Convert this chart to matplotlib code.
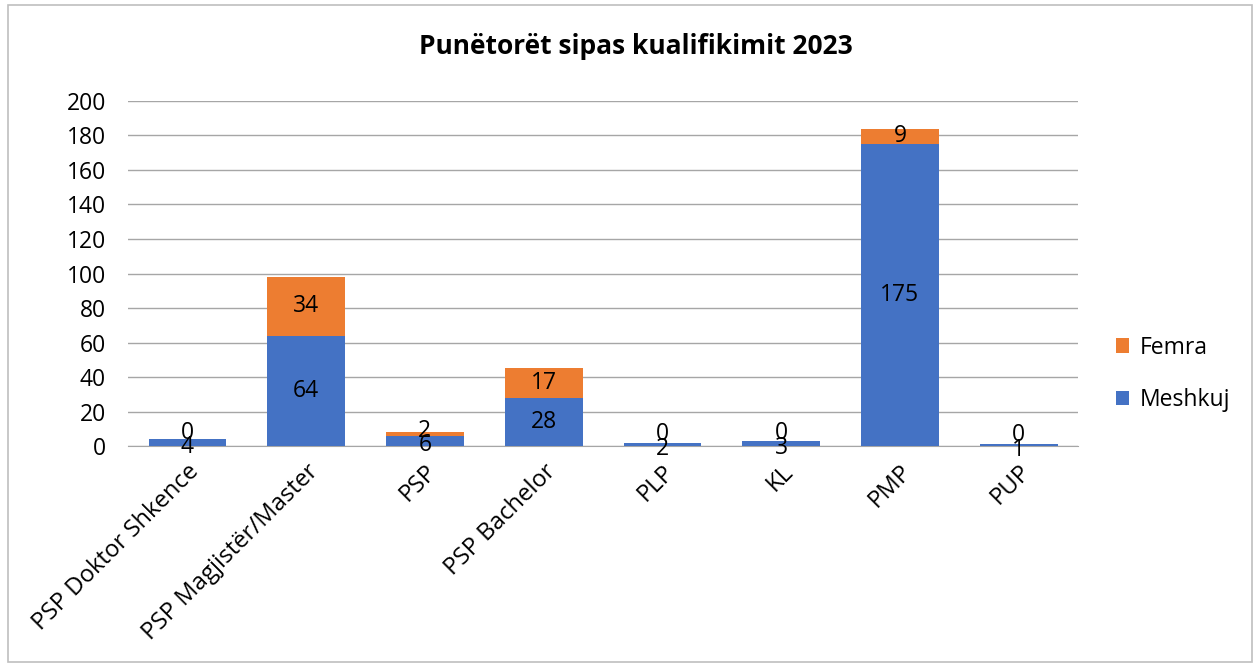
import matplotlib.pyplot as plt
from matplotlib.patches import Rectangle
import numpy as np

plt.rcParams['font.family'] = ['Open Sans', 'DejaVu Sans']

# Të dhënat
kategorite = ["PSP Doktor Shkence", "PSP Magjistër/Master", "PSP", "PSP Bachelor",
              "PLP", "KL", "PMP", "PUP"]
meshkuj = [4, 64, 6, 28, 2, 3, 175, 1]
femra = [0, 34, 2, 17, 0, 0, 9, 0]

ngjyra_m = "#4472C4"
ngjyra_f = "#ED7D31"

fig = plt.figure(figsize=(12.6, 6.64), dpi=100)
ax = fig.add_axes([0.1016, 0.3283, 0.754, 0.5196])

x = np.arange(len(kategorite))
w = 0.655
ax.bar(x, meshkuj, width=w, color=ngjyra_m, label="Meshkuj", zorder=3)
ax.bar(x, femra, width=w, bottom=meshkuj, color=ngjyra_f, label="Femra", zorder=3)

ax.set_xlim(-0.5, len(kategorite) - 0.5)
ax.set_ylim(0, 200)

# piksela për njësi në boshtin y
px_njesi = ax.get_position().height * fig.get_figheight() * fig.dpi / 200
pt_px = 72 / fig.dpi

# Etiketat e vlerave në mes të segmenteve (si Excel, shtyhen kur janë shumë afër)
for i in range(len(kategorite)):
    ym = meshkuj[i] / 2
    yf = meshkuj[i] + femra[i] / 2
    zhv_m = 0
    zhv_f = 0
    if meshkuj[i] < 10:
        zhv_m = -4.5
    ndarja = (yf - ym) * px_njesi - zhv_m
    if ndarja < 19:
        zhv_f = 19 - ndarja + zhv_m
    ax.annotate(str(meshkuj[i]), (x[i], ym), xytext=(0, zhv_m * pt_px),
                textcoords="offset points", ha="center", va="center",
                fontsize=16.5, zorder=4)
    ax.annotate(str(femra[i]), (x[i], yf), xytext=(0, zhv_f * pt_px),
                textcoords="offset points", ha="center", va="center",
                fontsize=16.5, zorder=4)

ax.set_yticks(range(0, 201, 20))
ax.tick_params(axis="y", labelsize=16.5, length=0, pad=16)
ax.tick_params(axis="x", labelsize=17.2, length=0, pad=10)
ax.set_xticks(x)
ax.set_xticklabels(kategorite, rotation=45, ha="right", rotation_mode="anchor")

ax.grid(axis="y", color="#A6A6A6", linewidth=1, zorder=0)
for s in ["top", "right", "left"]:
    ax.spines[s].set_visible(False)
ax.spines["bottom"].set_color("#A6A6A6")

fig.suptitle("Punëtorët sipas kualifikimit 2023", fontsize=19, fontweight="bold",
             x=0.505, y=0.95)

handles, labels = ax.get_legend_handles_labels()
fig.legend(handles[::-1], labels[::-1], loc="center left", bbox_to_anchor=(0.869, 0.437),
           frameon=False, fontsize=16.5, handlelength=0.6, handleheight=0.6,
           labelspacing=1.25, handletextpad=0.45)

# Korniza e figurës
fig.add_artist(Rectangle((0.006, 0.003), 0.988, 0.99, transform=fig.transFigure,
                         fill=False, edgecolor="#BFBFBF", linewidth=1.2))

fig.savefig("out.png", dpi=100)
